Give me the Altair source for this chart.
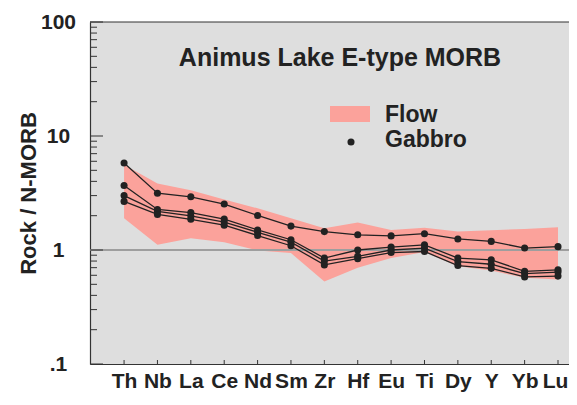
import altair as alt
import pandas as pd

# ---------------- data ----------------
elements = ["Th", "Nb", "La", "Ce", "Nd", "Sm", "Zr", "Hf", "Eu", "Ti", "Dy", "Y", "Yb", "Lu"]

gabbro_1 = [5.8, 3.15, 2.93, 2.53, 2.01, 1.62, 1.45, 1.36, 1.33, 1.39, 1.25, 1.19, 1.04, 1.07]
gabbro_2 = [3.68, 2.27, 2.13, 1.87, 1.50, 1.23, 0.85, 1.00, 1.06, 1.11, 0.85, 0.82, 0.65, 0.67]
gabbro_3 = [3.00, 2.18, 1.99, 1.76, 1.43, 1.17, 0.80, 0.88, 1.00, 1.04, 0.79, 0.75, 0.62, 0.64]
gabbro_4 = [2.67, 2.05, 1.86, 1.65, 1.34, 1.09, 0.74, 0.84, 0.95, 0.97, 0.73, 0.69, 0.58, 0.59]

flow_upper = [5.6, 3.83, 3.34, 2.78, 2.32, 1.90, 1.55, 1.74, 1.50, 1.57, 1.45, 1.49, 1.53, 1.58]
flow_lower = [1.9, 1.11, 1.27, 1.17, 0.99, 0.94, 0.53, 0.70, 0.85, 0.96, 0.72, 0.66, 0.57, 0.55]

y_tick_values = [0.1, 1, 10, 100]
y_minor_values = [m * 10.0 ** e for e in (-1, 0, 1) for m in range(2, 10)]

title_text = "Animus Lake E-type MORB"
y_title = "Rock / N-MORB"
legend_flow = "Flow"
legend_gabbro = "Gabbro"

# ---------------- styling ----------------
W, H = 479, 342
FONT = "Liberation Sans"
INK = "#222222"
BAND = "#fba29b"
BG = "#dedede"

rows = []
for name, vals in [("g1", gabbro_1), ("g2", gabbro_2), ("g3", gabbro_3), ("g4", gabbro_4)]:
    for el, v in zip(elements, vals):
        rows.append({"element": el, "series": name, "value": v})
gabbro = pd.DataFrame(rows)
flow = pd.DataFrame({"element": elements, "upper": flow_upper, "lower": flow_lower})

xscale = alt.Scale(type="point", padding=0.675, align=0.756)
yscale = alt.Scale(type="log", domain=[0.1, 100])

x_axis = alt.Axis(
    title=None, labelFont=FONT, labelFontSize=21, labelFontWeight="bold",
    labelColor=INK, labelPadding=6, labelAngle=0, ticks=False, grid=False,
    labelOffset={"condition": {"test": "datum.value == 'Lu'", "value": -3}, "value": 0},
    domainColor="#333333", domainWidth=1.2,
)
y_axis = alt.Axis(
    title=y_title, values=y_tick_values,
    labelExpr="datum.value < 1 ? '.1' : datum.label",
    labelFont=FONT, labelFontSize=21, labelFontWeight="bold", labelColor=INK,
    labelAlign="center", labelBaseline="middle", labelPadding=32,
    ticks=False, grid=False, domainColor="#333333", domainWidth=1.2,
    titleFont=FONT, titleFontSize=22, titleFontWeight="bold", titleColor=INK,
    titleX=-50, titleY=H / 2, titleAlign="center", titleAngle=270, titleBaseline="bottom",
)


def X():
    return alt.X("element:N", sort=elements, scale=xscale, axis=x_axis)


def Y(field):
    return alt.Y(field, scale=yscale, axis=y_axis)


band = alt.Chart(flow).mark_area(color=BAND, opacity=1).encode(
    x=X(), y=Y("upper:Q"), y2="lower:Q",
)

one_line = alt.Chart(pd.DataFrame({"upper": [1]})).mark_rule(color="#9e9e9e", strokeWidth=2).encode(
    y=Y("upper:Q")
)
top_border = alt.Chart(pd.DataFrame({"upper": [100]})).mark_rule(color="#333333", strokeWidth=1.2).encode(
    y=Y("upper:Q")
)
major_ticks = alt.Chart(pd.DataFrame({"upper": y_tick_values})).mark_rule(color="#333333", strokeWidth=1).encode(
    y=Y("upper:Q"), x=alt.value(0), x2=alt.value(13)
)
minor_ticks = alt.Chart(pd.DataFrame({"upper": y_minor_values})).mark_rule(color="#333333", strokeWidth=1).encode(
    y=Y("upper:Q"), x=alt.value(0), x2=alt.value(7)
)
x_ticks = alt.Chart(pd.DataFrame({"element": elements})).mark_rule(color="#333333", strokeWidth=1).encode(
    x=X(), y=alt.value(H), y2=alt.value(H - 4)
)

lines = alt.Chart(gabbro).mark_line(color=INK, strokeWidth=1.3).encode(
    x=X(), y=Y("value:Q"), detail="series:N"
)
points = alt.Chart(gabbro).mark_point(filled=True, color=INK, opacity=1, size=50, shape="circle").encode(
    x=X(), y=Y("value:Q")
)

title = alt.Chart(pd.DataFrame({"t": [title_text]})).mark_text(
    font=FONT, fontSize=25, fontWeight="bold", color=INK, align="center", baseline="alphabetic"
).encode(text="t:N", x=alt.value(250), y=alt.value(44))

dummy = pd.DataFrame({"a": [0]})
leg_rect = alt.Chart(dummy).mark_rect(color=BAND).encode(
    x=alt.value(240), x2=alt.value(280), y=alt.value(84), y2=alt.value(100)
)
leg_dot = alt.Chart(dummy).mark_point(filled=True, color=INK, opacity=1, size=50, shape="circle").encode(
    x=alt.value(261), y=alt.value(120)
)
leg_flow = alt.Chart(pd.DataFrame({"t": [legend_flow]})).mark_text(
    font=FONT, fontSize=23, fontWeight="bold", color=INK, align="left", baseline="alphabetic"
).encode(text="t:N", x=alt.value(295), y=alt.value(100))
leg_gab = alt.Chart(pd.DataFrame({"t": [legend_gabbro]})).mark_text(
    font=FONT, fontSize=23, fontWeight="bold", color=INK, align="left", baseline="alphabetic"
).encode(text="t:N", x=alt.value(295), y=alt.value(124.5))

chart = alt.layer(
    band, one_line, top_border, major_ticks, minor_ticks, x_ticks, lines, points,
    title, leg_rect, leg_dot, leg_flow, leg_gab,
).properties(
    width=W, height=H,
    padding={"left": 82, "top": 14, "right": 0, "bottom": 28},
    autosize=alt.AutoSizeParams(type="none"),
).configure_view(fill=BG, stroke=None)

chart.save("out.html", embed_options={"renderer": "svg", "actions": False})
